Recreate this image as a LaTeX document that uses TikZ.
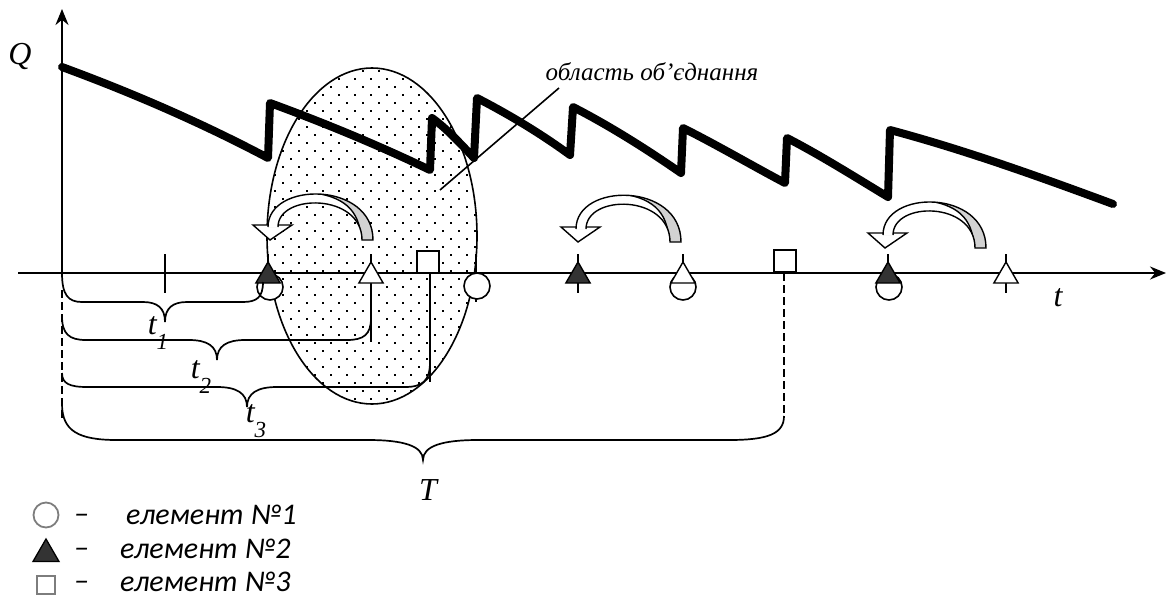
\documentclass[tikz,border=0pt]{standalone}
\usepackage{fontspec}
\setmainfont{Liberation Serif}
\newfontfamily\legendfont{Carlito}
\usetikzlibrary{arrows.meta,shapes.geometric}
\definecolor{markdark}{RGB}{51,51,51}
\definecolor{ribbongray}{RGB}{210,210,210}
\definecolor{legendgray}{RGB}{125,125,125}

\newcommand{\tsub}[1]{t\raisebox{-0.45em}{\fontsize{23}{23}\selectfont #1}}

% curved swap arrow: apex x, right foot x, foot y, top y
\newcommand{\swaparrow}[4]{%
  \draw[ribbon,fill=white] ({#1-17},{#3-15}) -- ({#1+22},{#3-15}) -- (#1,#3) -- cycle;
  \begin{scope}
    \clip ({#1-2},{#3-13}) .. controls ({#1-2},{#4-14}) and ({#2+6},{#4-14}) .. ({#2+6},#3)
      -- ({#2-5},#3) .. controls ({#2-5},{#4-2}) and ({#1+8},{#4-2}) .. ({#1+8},{#3-13}) -- cycle;
    \fill[ribbongray] ({#1-30},{#4-20}) rectangle ({#2+20},{#3+5});
    \fill[white] ({#1-30},{#3+5}) -- ({#1-30},{#4-20}) -- ({#1+0.4*(#2-#1)},{#4-20})
      -- ({#1+0.4*(#2-#1)},{#4-3}) .. controls ({#1+0.75*(#2-#1)},{#4+1}) and ({#2-7},{#4+14}) .. ({#2-6},#3)
      -- ({#2-6},{#3+5}) -- cycle;
    \draw[ribbon] ({#1+0.4*(#2-#1)},{#4-3}) .. controls ({#1+0.75*(#2-#1)},{#4+1}) and ({#2-7},{#4+14}) .. ({#2-6},#3);
  \end{scope}
  \draw[ribbon] ({#1-2},{#3-13}) .. controls ({#1-2},{#4-14}) and ({#2+6},{#4-14}) .. ({#2+6},#3)
    -- ({#2-5},#3) .. controls ({#2-5},{#4-2}) and ({#1+8},{#4-2}) .. ({#1+8},{#3-13});
}

% brace: x0, y start, level, tip x, x1, y end, tip half width, end radius
\newcommand{\timebrace}[8]{%
  \draw[bracestyle] (#1,#2) .. controls (#1,{#3-0.25*(#3-#2)}) and ({#1+0.3*#8},#3) .. ({#1+#8},#3)
    -- ({#4-#7},#3) .. controls ({#4-0.35*#7},#3) and (#4,{#3+6}) .. (#4,{#3+20})
    .. controls (#4,{#3+6}) and ({#4+0.35*#7},#3) .. ({#4+#7},#3)
    -- ({#5-#8},#3) .. controls ({#5-0.3*#8},#3) and (#5,{#3-0.25*(#3-#6)}) .. (#5,#6);
}

\begin{document}
\begin{tikzpicture}[
  x=1pt,y=-1pt,
  qline/.style={line width=8pt,line join=round,line cap=round},
  axisline/.style={line width=2.2pt},
  thinline/.style={line width=1.6pt},
  ribbon/.style={line width=1.4pt},
  bracestyle/.style={line width=1.7pt},
  elemone/.style={circle,draw,fill=white,line width=1.6pt,minimum size=26pt,inner sep=0pt},
  elemtwo/.style={regular polygon,regular polygon sides=3,draw,fill=markdark,line width=1.4pt,minimum size=28pt,inner sep=0pt},
  elemtwoopen/.style={elemtwo,fill=white},
  elemthree/.style={rectangle,draw,fill=white,line width=1.6pt,minimum size=22pt,inner sep=0pt},
  lbl/.style={font=\fontsize{32}{34}\selectfont\itshape,inner sep=0pt},
  legendtext/.style={font=\legendfont\fontsize{30}{32}\selectfont\itshape,anchor=west,inner sep=0pt}
]
  \useasboundingbox (0,0) rectangle (1166,600);

  \begin{scope}
    \clip (372,236) ellipse [x radius=105,y radius=168];
    \fill[white] (372,236) ellipse [x radius=105,y radius=168];
    \foreach \r in {0,...,42}
      \foreach \c in {0,...,14}
        \fill ({266+16*\c+8*mod(\r,2)},{70+8*\r}) rectangle ++(2,2);
  \end{scope}
  \draw[thinline] (372,236) ellipse [x radius=105,y radius=168];

  \draw[axisline,-{Stealth[length=16pt,width=13pt]}] (62,273) -- (62,9);
  \draw[axisline,-{Stealth[length=16pt,width=13pt]}] (18,273) -- (1166,273);

  \node[lbl] (qlabel) at (20,56) {Q};
  \node[lbl] (tlabel) at (1058,298) {t};

  \node[lbl,font=\fontsize{25}{27}\selectfont\itshape] (region) at (652,72) {область об’єднання};
  \coordinate (leadfoot) at (440,190);
  \coordinate (leadtop) at (559,88);
  \draw[thinline] (leadfoot) -- (leadtop);

  \draw[qline] (62,67) .. controls (130,92) and (200,122) .. (268,158)
    -- (270,103) .. controls (322,122) and (378,145) .. (430,170)
    -- (432,118) .. controls (446,128) and (460,143) .. (474,158)
    -- (477,98) .. controls (508,114) and (540,133) .. (570,155)
    -- (573,107) .. controls (608,125) and (645,148) .. (681,173)
    -- (683,128) .. controls (717,145) and (751,165) .. (785,183)
    -- (787,138) .. controls (820,155) and (855,177) .. (888,197)
    -- (890,130) .. controls (965,150) and (1040,177) .. (1113,204);

  \swaparrow{270}{367}{240}{195}
  \swaparrow{578}{675}{242}{196}
  \swaparrow{885}{980}{248}{203}

  \foreach \tx in {165,268,578,683,888,1006}
    \draw[thinline] (\tx,254) -- (\tx,293);
  \draw[thinline] (476,254) -- (476,302);
  \draw[thinline] (371,254) -- (371,342);
  \draw[thinline] (430,273) -- (430,382);
  \draw[thinline,dash pattern=on 8pt off 4pt] (62,290) -- (62,418);
  \draw[thinline,dash pattern=on 8pt off 4pt] (784,273) -- (784,416);

  \timebrace{62}{373}{387}{247}{430}{362}{30}{25}
  \timebrace{62}{404}{440}{423}{784}{416}{55}{55}

  \node[elemone] (one1) at (270,287) {};
  \node[elemtwo] (two1) at (268,276) {};
  \node[elemtwoopen] (open1) at (371,276) {};
  \node[elemthree] (three1) at (428,262) {};
  \node[elemone] (one2) at (477,286) {};
  \node[elemtwo] (two2) at (578,276) {};
  \node[elemone] (one3) at (683,287) {};
  \node[elemtwoopen] (open2) at (683,276) {};
  \node[elemthree] (three2) at (785,261) {};
  \node[elemone] (one4) at (889,287) {};
  \node[elemtwo] (two3) at (888,276) {};
  \node[elemtwoopen] (open3) at (1006,276) {};

  \timebrace{62}{273}{302}{165}{263}{282}{22}{20}
  \timebrace{62}{316}{340}{217}{371}{318}{28}{24}

  \node[lbl] (tone) at (158,333) {\tsub{1}};
  \node[lbl] (ttwo) at (201,377) {\tsub{2}};
  \node[lbl] (tthree) at (256,421) {\tsub{3}};
  \node[lbl] (tbig) at (428,490) {T};

  \node[circle,draw=legendgray,line width=1.8pt,minimum size=25pt,inner sep=0pt] (keyone) at (46,515) {};
  \node[regular polygon,regular polygon sides=3,draw,fill=markdark,line width=1.3pt,minimum size=30pt,inner sep=0pt] (keytwo) at (46,554) {};
  \node[rectangle,draw=legendgray,line width=1.8pt,minimum size=18pt,inner sep=0pt] (keythree) at (46,585) {};
  \node[legendtext] (dashone) at (74,519) {–};
  \node[legendtext] (dashtwo) at (74,553) {–};
  \node[legendtext] (dashthree) at (74,586) {–};
  \node[legendtext] (txtone) at (126,515) {елемент №1};
  \node[legendtext] (txttwo) at (120,549) {елемент №2};
  \node[legendtext] (txtthree) at (120,582) {елемент №3};
\end{tikzpicture}
\end{document}
